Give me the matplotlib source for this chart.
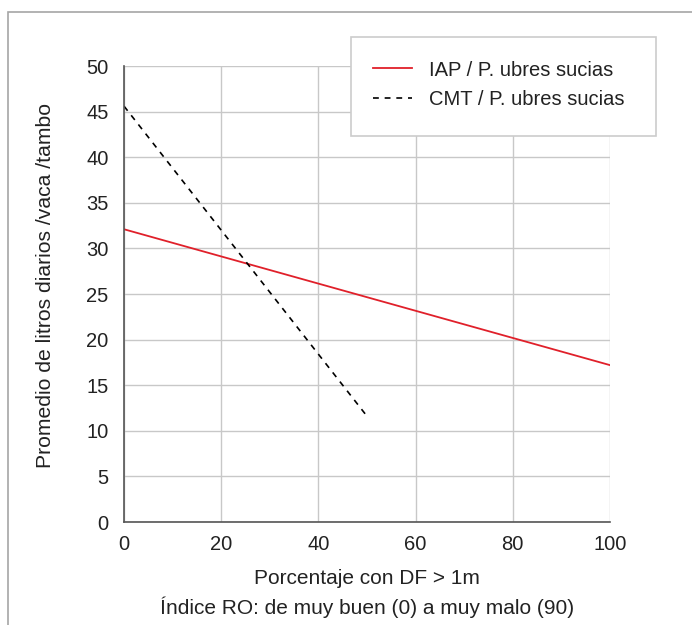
import matplotlib.pyplot as plt
from matplotlib.patches import Rectangle

plt.rcParams['font.family'] = ['Liberation Sans', 'DejaVu Sans']

# datos
x_iap = [0, 100]
y_iap = [32.1, 17.2]
x_cmt = [0, 50]
y_cmt = [45.6, 11.6]

xticks = [0, 20, 40, 60, 80, 100]
yticks = [0, 5, 10, 15, 20, 25, 30, 35, 40, 45, 50]

W, H = 692, 625
fig = plt.figure(figsize=(W/100, H/100), dpi=100)
ax = fig.add_axes([124/W, 1-522/H, (610-124)/W, (522-66)/H])

# marco exterior gris
fig.patches.append(Rectangle((8/W, -0.5), 2, 1.5 - 12/H, transform=fig.transFigure,
                             fill=False, edgecolor='#a6a6a6', linewidth=1.2))

ax.plot(x_iap, y_iap, color='#e0202a', linewidth=1.3, label='IAP / P. ubres sucias')
ax.plot(x_cmt, y_cmt, color='black', linewidth=1.2, linestyle=(0, (3.5, 3.5)), label='CMT / P. ubres sucias')

ax.set_xlim(0, 100)
ax.set_ylim(0, 50)
ax.set_xticks(xticks)
ax.set_yticks(yticks)
ax.tick_params(length=0, labelsize=14.5, colors='#222222')
ax.tick_params(axis='x', pad=9)
ax.tick_params(axis='y', pad=11)
ax.grid(True, color='#c8c8c8', linewidth=1)
ax.set_axisbelow(True)
for s in ['top', 'right']:
    ax.spines[s].set_visible(False)
for s in ['left', 'bottom']:
    ax.spines[s].set_color('#555555')
    ax.spines[s].set_linewidth(1.2)

# titulos de ejes
fig.text(46/W, 1-285/H, 'Promedio de litros diarios /vaca /tambo', rotation=90,
         ha='center', va='center', fontsize=15.2, color='#222222')
fig.text(367/W, 1-578/H, 'Porcentaje con DF > 1m',
         ha='center', va='center', fontsize=15, color='#222222')
fig.text(367/W, 1-607/H, 'Índice RO: de muy buen (0) a muy malo (90)',
         ha='center', va='center', fontsize=15, color='#222222')

# caja de la leyenda
box = Rectangle((351/W, 1-136/H), (656-351)/W, (136-37)/H, transform=fig.transFigure,
                facecolor='white', edgecolor='#cccccc', linewidth=1.2, zorder=4)
fig.patches.append(box)

leg = fig.legend(*ax.get_legend_handles_labels(), loc='upper left',
                 bbox_to_anchor=(373/W, 1-60.5/H), fontsize=14.5, frameon=False,
                 borderpad=0, borderaxespad=0, handlelength=1.95,
                 labelspacing=0.5, handletextpad=0.85)
for t in leg.get_texts():
    t.set_color('#222222')
leg.set_zorder(5)

fig.savefig('out.png', dpi=100)
